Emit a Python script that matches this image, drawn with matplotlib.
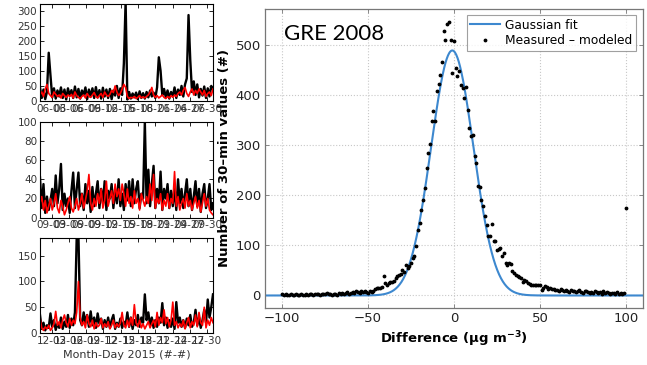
import matplotlib
matplotlib.use('Agg')
import matplotlib.pyplot as plt
import numpy as np

# ---- time series (left panels) ----
jun_black = [45, 10, 38, 6, 30, 160, 85, 12, 42, 8,
             35, 15, 45, 10, 38, 5, 42, 18, 36, 10,
             48, 12, 40, 8, 35, 20, 45, 6, 38, 15,
             42, 10, 46, 12, 36, 8, 44, 15, 38, 10,
             40, 6, 35, 18, 50, 10, 42, 20, 125, 330,
             5, 30, 8, 25, 12, 28, 6, 32, 10, 26,
             8, 30, 12, 35, 15, 28, 10, 45, 145, 100,
             20, 40, 12, 35, 8, 30, 15, 45, 10, 38,
             20, 50, 15, 55, 75, 285, 135, 30, 65, 20,
             55, 12, 40, 18, 48, 10, 42, 15, 50, 38]
jun_red = [20, 30, 15, 40, 55, 25, 18, 12, 30, 22,
           15, 20, 10, 25, 18, 12, 20, 15, 22, 10,
           30, 18, 12, 8, 15, 20, 10, 25, 15, 12,
           20, 28, 15, 10, 18, 25, 12, 30, 20, 15,
           22, 35, 28, 50, 30, 18, 25, 40, 55, 45,
           15, 8, 12, 10, 15, 8, 12, 18, 10, 14,
           10, 15, 20, 30, 45, 20, 12, 18, 10, 15,
           20, 12, 8, 15, 10, 18, 12, 20, 15, 25,
           30, 20, 35, 45, 25, 15, 30, 40, 20, 35,
           25, 40, 30, 20, 35, 15, 25, 30, 18, 40]

sep_black = [42, 10, 35, 5, 22, 8, 18, 30, 12, 44,
             15, 30, 56, 8, 25, 12, 20, 5, 28, 47,
             10, 30, 47, 12, 25, 8, 35, 15, 28, 6,
             32, 12, 25, 38, 10, 30, 15, 38, 8, 28,
             20, 35, 10, 30, 15, 40, 12, 25, 8, 35,
             18, 38, 12, 40, 15, 30, 38, 10, 25, 20,
             100, 15, 50, 12, 35, 54, 10, 30, 15, 48,
             8, 30, 20, 35, 10, 28, 12, 32, 8, 40,
             15, 30, 10, 25, 40, 12, 30, 8, 22, 38,
             12, 30, 6, 25, 35, 10, 20, 35, 8, 15]
sep_red = [15, 22, 8, 18, 5, 12, 20, 8, 15, 25,
           10, 5, 18, 12, 3, 8, 15, 22, 10, 6,
           12, 20, 8, 15, 25, 10, 18, 28, 45, 15,
           8, 20, 12, 25, 15, 30, 10, 18, 38, 12,
           20, 28, 15, 35, 22, 30, 18, 35, 25, 12,
           30, 15, 22, 10, 28, 15, 20, 8, 25, 18,
           12, 22, 15, 35, 18, 45, 10, 20, 15, 25,
           8, 18, 12, 25, 10, 20, 15, 48, 12, 22,
           8, 15, 20, 10, 25, 12, 18, 8, 15, 22,
           10, 18, 6, 15, 25, 12, 20, 8, 5, 3]

dec_black = [35, 8, 20, 5, 15, 10, 38, 12, 25, 6,
             18, 10, 30, 8, 22, 12, 35, 10, 28, 15,
             40, 185, 190, 25, 15, 40, 20, 35, 12, 42,
             15, 30, 10, 38, 18, 28, 8, 25, 12, 30,
             10, 25, 35, 8, 20, 12, 28, 10, 22, 15,
             40, 12, 30, 8, 25, 15, 35, 12, 30, 20,
             75, 25, 40, 15, 30, 10, 25, 12, 30, 20,
             58, 15, 30, 10, 25, 12, 28, 8, 60, 20,
             30, 12, 25, 10, 28, 15, 35, 12, 20, 45,
             15, 30, 10, 25, 45, 20, 65, 30, 50, 75]
dec_red = [30, 10, 5, 12, 8, 15, 5, 10, 18, 42,
           15, 22, 10, 25, 35, 20, 12, 28, 15, 25,
           18, 40, 100, 30, 15, 22, 10, 35, 18, 12,
           25, 8, 20, 12, 15, 28, 10, 18, 12, 22,
           8, 15, 25, 10, 18, 12, 20, 40, 15, 10,
           25, 12, 30, 15, 55, 20, 12, 25, 10, 18,
           8, 15, 22, 10, 18, 25, 12, 40, 15, 30,
           20, 45, 18, 30, 12, 25, 60, 15, 22, 10,
           18, 12, 25, 8, 20, 30, 10, 22, 15, 35,
           12, 40, 20, 15, 50, 10, 25, 15, 30, 20]

months = ['06', '09', '12']
tick_days = [3, 6, 9, 12, 15, 18, 21, 24, 27, 30]
ylims = [320, 100, 185]
yticks = [[0, 50, 100, 150, 200, 250, 300], [0, 20, 40, 60, 80, 100], [0, 50, 100, 150]]

# ---- histogram of differences (right panel) ----
diff_bins = np.arange(-100, 101)
diff_counts = [3, 1, 2, 1, 1, 2, 1, 1, 2, 1,
               1, 2, 1, 1, 2, 1, 2, 3, 1, 2,
               3, 2, 1, 2, 3, 2, 4, 2, 3, 1,
               2, 3, 1, 4, 3, 5, 2, 4, 6, 3,
               5, 7, 4, 8, 6, 5, 9, 7, 8, 6,
               5, 8, 7, 9, 12, 15, 14, 15, 16, 38,
               24, 20, 25, 26, 27, 28, 35, 38, 41, 43,
               51, 46, 61, 55, 58, 65, 75, 78, 99, 130,
               145, 171, 190, 215, 255, 285, 303, 348, 368, 348,
               408, 423, 441, 466, 528, 510, 543, 546, 510, 445,
               508, 455, 438, 448, 421, 415, 395, 417, 371, 335,
               318, 321, 279, 265, 219, 217, 191, 178, 158, 140,
               118, 119, 143, 108, 109, 91, 93, 95, 78, 85,
               65, 61, 65, 63, 48, 45, 41, 39, 37, 35,
               26, 31, 28, 25, 22, 21, 21, 20, 21, 20,
               21, 10, 15, 19, 17, 13, 15, 13, 12, 10,
               11, 9, 13, 10, 8, 11, 9, 7, 10, 8,
               9, 6, 8, 10, 7, 5, 9, 8, 6, 4,
               7, 5, 9, 6, 4, 7, 3, 8, 5, 6,
               4, 3, 5, 4, 2, 6, 3, 4, 2, 5,
               175]
# gaussian fit parameters
fit_amp = 490
fit_mu = -1.0
fit_sigma = 12.3

fig = plt.figure(figsize=(6.47, 3.65), dpi=100)

series = [(jun_black, jun_red), (sep_black, sep_red), (dec_black, dec_red)]
boxes = [[0.0618, 0.7233, 0.2674, 0.2644],
         [0.0618, 0.4036, 0.2674, 0.2630],
         [0.0618, 0.0877, 0.2674, 0.2610]]
for i in range(3):
    ax = fig.add_axes(boxes[i])
    blk, red = series[i]
    t = np.linspace(1, 31, len(blk))
    ax.plot(t, blk, color='black', lw=1.7)
    ax.plot(t, red, color='red', lw=1.2)
    ax.set_xlim(1, 31)
    ax.set_ylim(0, ylims[i])
    ax.set_yticks(yticks[i])
    ax.set_xticks(tick_days)
    ax.set_xticklabels([months[i] + '-%02d' % d for d in tick_days])
    ax.tick_params(direction='in', top=True, right=True, length=3, width=0.6,
                   labelsize=7.5, labelcolor='#333333', pad=2)
    for s in ax.spines.values():
        s.set_linewidth(0.8)
    if i == 2:
        ax.set_xlabel('Month-Day 2015 (#-#)', fontsize=8, color='#333333', labelpad=3)

# right panel
ax = fig.add_axes([0.4096, 0.1562, 0.5842, 0.8192])
xx = np.linspace(-110, 110, 600)
ax.plot(xx, fit_amp * np.exp(-(xx - fit_mu) ** 2 / (2 * fit_sigma ** 2)),
        color='#3d88cf', lw=1.5, label='Gaussian fit')
ax.plot(diff_bins, diff_counts, '.', color='black', ms=3.5, label='Measured \u2013 modeled')
ax.set_xlim(-110, 110)
ax.set_ylim(-25, 573)
ax.set_xticks([-100, -50, 0, 50, 100])
ax.set_xticklabels(['\u2212100', '\u221250', '0', '50', '100'])
ax.set_yticks([0, 100, 200, 300, 400, 500])
ax.grid(True, linestyle=':', color='#c8c8c8', lw=0.8)
ax.tick_params(direction='in', top=True, right=True, length=3, width=0.6,
               labelsize=9.5, labelcolor='#222222', color='#777777', pad=3)
for s in ax.spines.values():
    s.set_color('#777777')
    s.set_linewidth(0.9)
ax.set_xlabel('Difference (\u03bcg m$^{\\mathbf{-3}}$)', fontsize=9.5, fontweight='bold', labelpad=3)
ax.set_ylabel('Number of 30\u2013min values (#)', fontsize=9.5, fontweight='bold', labelpad=3)
ax.text(0.05, 0.915, 'GRE 2008', transform=ax.transAxes, fontsize=16,
        family='Lato', va='center', ha='left')
leg = ax.legend(loc='upper right', bbox_to_anchor=(0.987, 0.988), fontsize=8.8,
                frameon=True, fancybox=False, handlelength=2.4, borderpad=0.3,
                labelspacing=0.2, handletextpad=0.4, borderaxespad=0.2)
leg.get_frame().set_edgecolor('#888888')
leg.get_frame().set_linewidth(0.8)

fig.savefig('out.png', dpi=100)
